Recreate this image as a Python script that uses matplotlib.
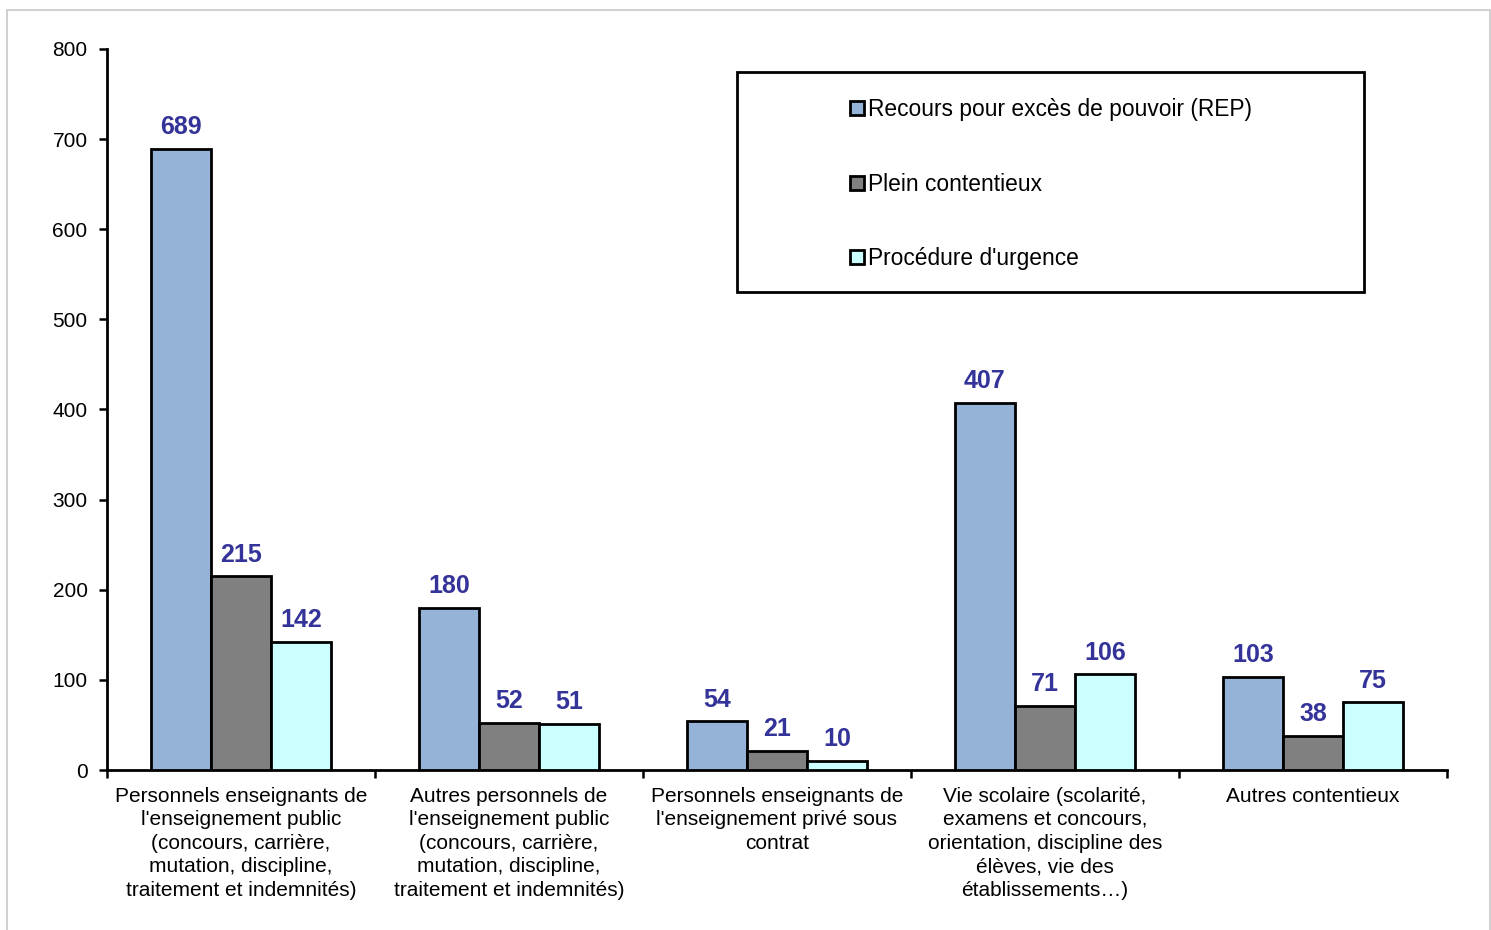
import numpy as np
import matplotlib.pyplot as plt
from matplotlib.patches import Rectangle

plt.rcParams['font.family'] = ['Liberation Sans', 'DejaVu Sans']

# Data
categories = [
    "Personnels enseignants de\nl'enseignement public\n(concours, carrière,\nmutation, discipline,\ntraitement et indemnités)",
    "Autres personnels de\nl'enseignement public\n(concours, carrière,\nmutation, discipline,\ntraitement et indemnités)",
    "Personnels enseignants de\nl'enseignement privé sous\ncontrat",
    "Vie scolaire (scolarité,\nexamens et concours,\norientation, discipline des\nélèves, vie des\nétablissements…)",
    "Autres contentieux",
]
series_names = ["Recours pour excès de pouvoir (REP)", "Plein contentieux", "Procédure d'urgence"]
rep = [689, 180, 54, 407, 103]
plein = [215, 52, 21, 71, 38]
urgence = [142, 51, 10, 106, 75]
colors = ['#95B3D7', '#808080', '#CCFFFF']

fig = plt.figure(figsize=(14.91, 9.30), dpi=100)
W, H = 1491, 930
ax = fig.add_axes([107 / W, 1 - 770 / H, (1447 - 107) / W, (770 - 49) / H])

# light outer frame
fig.patches.append(Rectangle((7 / W, -0.01), (1490 - 7) / W, 1 - 10 / H + 0.01,
                             transform=fig.transFigure, fill=False,
                             edgecolor='#c8c8c8', linewidth=1.2))

x = np.arange(len(categories))
width = 0.224
label_color = '#333399'
for i, (vals, name) in enumerate(zip([rep, plein, urgence], series_names)):
    bars = ax.bar(x + (i - 1) * width, vals, width, color=colors[i], edgecolor='black',
                  linewidth=2, label=name, zorder=3)
    ax.bar_label(bars, labels=[str(v) for v in vals], padding=7, fontsize=18,
                 fontweight='bold', color=label_color)

ax.set_xlim(-0.5, len(categories) - 0.5)
ax.set_ylim(0, 800)
ax.set_yticks(range(0, 801, 100))

# category boundaries as ticks, names centered between them
ax.set_xticks(np.arange(-0.5, len(categories), 1))
ax.set_xticklabels([])
ax.tick_params(axis='x', which='major', direction='out', length=6, width=1.8)
ax.set_xticks(x, minor=True)
ax.set_xticklabels(categories, minor=True, fontsize=15, linespacing=1.3)
ax.tick_params(axis='x', which='minor', length=0, pad=12)
ax.tick_params(axis='y', direction='out', length=6, width=1.8, labelsize=15, pad=8)

for side in ['top', 'right']:
    ax.spines[side].set_visible(False)
for side in ['left', 'bottom']:
    ax.spines[side].set_linewidth(2)

# legend inside a fixed box
fig.patches.append(Rectangle((737 / W, 1 - 292 / H), (1364 - 737) / W, (292 - 72) / H,
                             transform=fig.transFigure, fill=True, facecolor='white',
                             edgecolor='black', linewidth=2, zorder=5))
leg = fig.legend(loc='upper left', bbox_to_anchor=(839 / W, 1 - 87 / H), frameon=False,
                 fontsize=16.4, handlelength=0.58, handleheight=0.58, handletextpad=0.2,
                 labelspacing=2.25, borderpad=0)
leg.set_zorder(6)

fig.savefig('out.png', dpi=100)
